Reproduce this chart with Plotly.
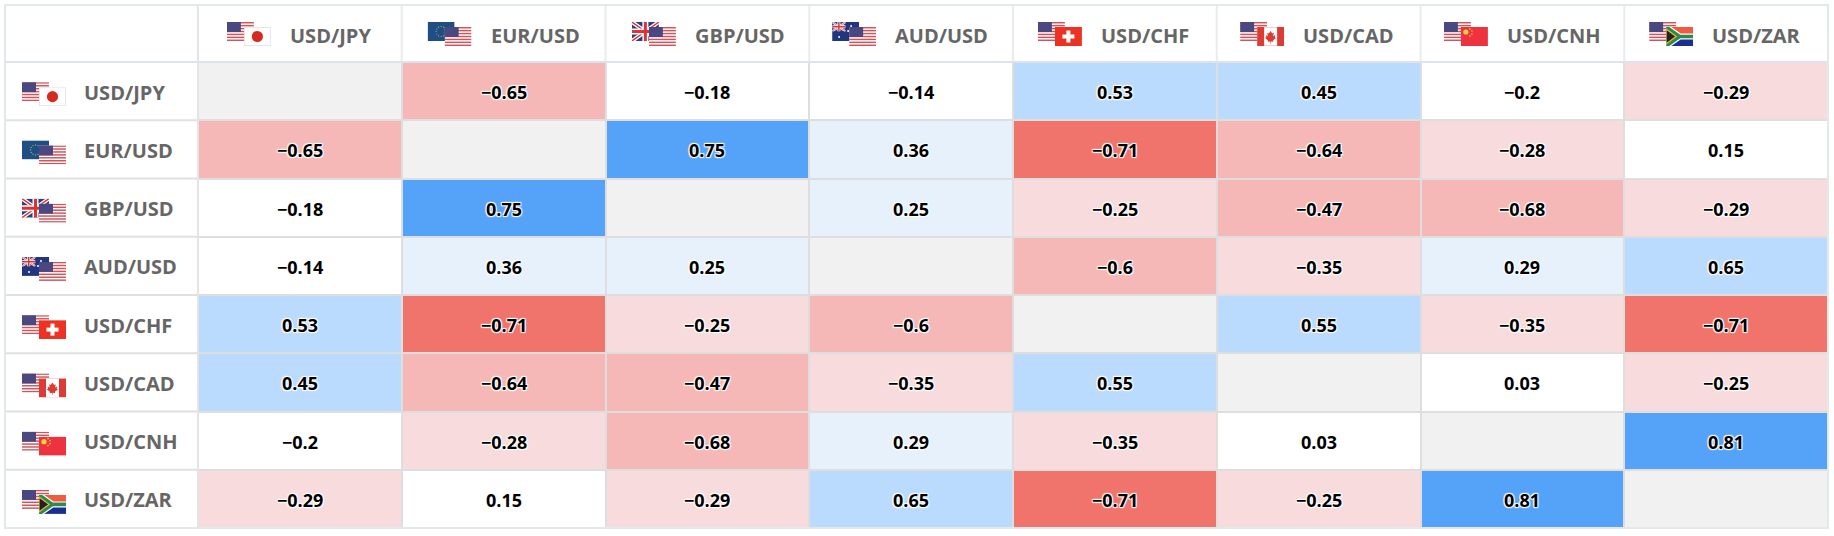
import base64
import math
import plotly.graph_objects as go

pairs = ["USD/JPY", "EUR/USD", "GBP/USD", "AUD/USD", "USD/CHF", "USD/CAD", "USD/CNH", "USD/ZAR"]
row_usd_jpy = [None, -0.65, -0.18, -0.14, 0.53, 0.45, -0.2, -0.29]
row_eur_usd = [-0.65, None, 0.75, 0.36, -0.71, -0.64, -0.28, 0.15]
row_gbp_usd = [-0.18, 0.75, None, 0.25, -0.25, -0.47, -0.68, -0.29]
row_aud_usd = [-0.14, 0.36, 0.25, None, -0.6, -0.35, 0.29, 0.65]
row_usd_chf = [0.53, -0.71, -0.25, -0.6, None, 0.55, -0.35, -0.71]
row_usd_cad = [0.45, -0.64, -0.47, -0.35, 0.55, None, 0.03, -0.25]
row_usd_cnh = [-0.2, -0.28, -0.68, 0.29, -0.35, 0.03, None, 0.81]
row_usd_zar = [-0.29, 0.15, -0.29, 0.65, -0.71, -0.25, 0.81, None]
matrix = [row_usd_jpy, row_eur_usd, row_gbp_usd, row_aud_usd, row_usd_chf, row_usd_cad, row_usd_cnh, row_usd_zar]

W, H = 1834, 536
L, R, T, B = 198, 1828, 62, 528
CW, CH = (R - L) / 8, (B - T) / 8
LABEL_FONT = dict(family="Open Sans", size=20, color="#666666", weight=700)
VALUE_FONT = dict(family="Open Sans", size=18, color="#000000", weight=700,
                  shadow="1px 1px 1px #fff,-1px -1px 1px #fff,1px -1px 1px #fff,-1px 1px 1px #fff")
HEAD_BLOCK_LEFT = [-73, -76, -75.5, -79, -77, -78.5, -78.5, -77]


def colour_scale():
    stops = [(-1.0, "#F0736C"), (-0.7, "#F5B8B7"), (-0.4, "#F8DBDC"), (-0.22, "#FFFFFF"),
             (0.2, "#E6F1FC"), (0.4, "#BBDBFE"), (0.7, "#55A3F9"), (1.0, "#55A3F9")]
    out = []
    for i in range(len(stops) - 1):
        a, c = stops[i]
        b, _ = stops[i + 1]
        out += [[(a + 1) / 2, c], [(b + 1) / 2, c]]
    return out


def us(w=27, h=19):
    s = f'<rect width="{w}" height="{h}" fill="#fff"/>'
    for i in range(0, 13, 2):
        s += f'<rect y="{i*h/13:.2f}" width="{w}" height="{h/13:.2f}" fill="#D0545C"/>'
    s += f'<rect width="{w*0.52:.1f}" height="{h*10/19:.1f}" fill="#4A4880"/>'
    return s


def jpy(w=27, h=19):
    return (f'<rect x=".5" y=".5" width="{w-1}" height="{h-1}" fill="#fff" stroke="#E6E6E6"/>'
            f'<circle cx="{w/2}" cy="{h/2}" r="5.6" fill="#D52B1E"/>')


def eur(w=27, h=19):
    dots = ""
    for i in range(12):
        a = math.pi * i / 6
        dots += f'<circle cx="{w/2+5*math.cos(a):.1f}" cy="{h/2+5*math.sin(a):.1f}" r=".6" fill="#C8B94A"/>'
    return f'<rect width="{w}" height="{h}" fill="#1F4E85"/>' + dots


def uk_block(w=27, h=19):
    return (f'<rect width="{w}" height="{h}" fill="#2A3F85"/>'
            f'<path d="M0 0L{w} {h}M{w} 0L0 {h}" stroke="#fff" stroke-width="4"/>'
            f'<path d="M0 0L{w} {h}M{w} 0L0 {h}" stroke="#D33" stroke-width="1.4"/>'
            f'<path d="M{w/2} 0V{h}M0 {h/2}H{w}" stroke="#fff" stroke-width="6"/>'
            f'<path d="M{w/2} 0V{h}M0 {h/2}H{w}" stroke="#D33" stroke-width="3"/>')


def aud(w=27, h=19):
    stars = "".join(f'<circle cx="{x}" cy="{y}" r="1" fill="#fff"/>' for x, y in [(7, 15), (19, 4), (23, 8), (19, 15), (16, 9)])
    return (f'<rect width="{w}" height="{h}" fill="#22357F"/>'
            f'<svg x="0" y="0" width="13.5" height="9.5" viewBox="0 0 27 19" preserveAspectRatio="none">{uk_block()}</svg>' + stars)


def chf(w=27, h=19):
    return (f'<rect width="{w}" height="{h}" fill="#EC3323"/>'
            f'<rect x="{w/2-6}" y="{h/2-2}" width="12" height="4" fill="#fff"/>'
            f'<rect x="{w/2-2}" y="{h/2-6}" width="4" height="12" fill="#fff"/>')


def cad(w=27, h=19):
    return (f'<rect width="{w}" height="{h}" fill="#fff" stroke="#E8A0A0"/>'
            f'<rect width="7" height="{h}" fill="#DD3B35"/><rect x="{w-7}" width="7" height="{h}" fill="#DD3B35"/>'
            f'<path d="M13.5 4l1.6 2.6 1.6-.8-.6 3.4 2-1.2-.4 2.4 1.4.4-3.2 2.6.3 1.4-2.5-.4v2h-.6v-2l-2.5.4.3-1.4-3.2-2.6 1.4-.4-.4-2.4 2 1.2-.6-3.4 1.6.8z" fill="#DD3B35"/>')


def cnh(w=27, h=19):
    return (f'<rect width="{w}" height="{h}" fill="#EE3240"/>'
            '<circle cx="5" cy="5" r="2.6" fill="#F6D23C"/>'
            + "".join(f'<circle cx="{x}" cy="{y}" r=".8" fill="#F6D23C"/>' for x, y in [(9, 2), (11, 4), (11, 7), (9, 9)]))


def zar(w=27, h=19):
    return (f'<rect width="{w}" height="{h/2}" fill="#EE5B3E"/>'
            f'<rect y="{h/2}" width="{w}" height="{h/2}" fill="#1A2F8F"/>'
            f'<path d="M0 0L{w/2} {h/2}H{w}M0 {h}L{w/2} {h/2}" stroke="#fff" stroke-width="6" fill="none"/>'
            f'<path d="M0 0L{w/2} {h/2}H{w}M0 {h}L{w/2} {h/2}" stroke="#2E8B4E" stroke-width="3.6" fill="none"/>'
            f'<path d="M0 2L10 {h/2}L0 {h-2}z" fill="#222" stroke="#E8B92E" stroke-width="1.2"/>')


FLAG = {"USD": us, "JPY": jpy, "EUR": eur, "GBP": uk_block, "AUD": aud, "CHF": chf, "CAD": cad, "CNH": cnh, "ZAR": zar}
BACK = {"USD/JPY": ("USD", "JPY"), "EUR/USD": ("EUR", "USD"), "GBP/USD": ("GBP", "USD"), "AUD/USD": ("AUD", "USD"),
        "USD/CHF": ("USD", "CHF"), "USD/CAD": ("USD", "CAD"), "USD/CNH": ("USD", "CNH"), "USD/ZAR": ("USD", "ZAR")}


def flag_uri(pair):
    a, b = BACK[pair]
    svg = ('<svg xmlns="http://www.w3.org/2000/svg" width="44" height="24" viewBox="0 0 44 24">'
           f'<svg x="0" y="0" width="27" height="19">{FLAG[a]()}</svg>'
           f'<svg x="17" y="5" width="27" height="19">{FLAG[b]()}</svg></svg>')
    return "data:image/svg+xml;base64," + base64.b64encode(svg.encode()).decode()


def py(p):
    return (B - p) / (B - T)


def px(p):
    return (p - L) / (R - L)


z = [[0 if v is None else v for v in row] for row in matrix]

fig = go.Figure()
fig.add_trace(go.Heatmap(
    x=pairs, y=pairs, z=z,
    colorscale=colour_scale(), zmin=-1, zmax=1, showscale=False, xgap=2, ygap=2, hoverinfo="skip"))
fig.add_trace(go.Heatmap(
    x=pairs, y=pairs, z=[[1 if v is None else None for v in row] for row in matrix],
    colorscale=[[0, "#F1F1F1"], [1, "#F1F1F1"]], showscale=False, xgap=2, ygap=2, hoverinfo="skip"))

images, annotations, shapes = [], [], []
for r, row in enumerate(matrix):
    for c, v in enumerate(row):
        if v is not None:
            annotations.append(dict(text=str(v).replace("-", "\u2212"), xref="x", yref="y", x=pairs[c], y=pairs[r],
                                    showarrow=False, yshift=-1, font=VALUE_FONT))

for i, p in enumerate(pairs):
    uri = flag_uri(p)
    off = HEAD_BLOCK_LEFT[i]
    images.append(dict(source=uri, xref="x", yref="paper", x=i + off / CW, y=py(22),
                       sizex=44 / CW, sizey=24 / (B - T), xanchor="left", yanchor="top", sizing="stretch", layer="above"))
    images.append(dict(source=uri, xref="paper", yref="y", x=px(22), y=i - 9 / CH,
                       sizex=44 / (R - L), sizey=24 / CH, xanchor="left", yanchor="top", sizing="stretch", layer="above"))
    annotations.append(dict(text=p, xref="paper", yref="y", x=px(82), y=i, yshift=-1, xanchor="left", yanchor="middle",
                            showarrow=False, font=LABEL_FONT))
    annotations.append(dict(text=p, xref="x", yref="paper", x=i, y=py(35), xshift=off + 61, xanchor="left",
                            yanchor="middle", showarrow=False, font=LABEL_FONT))
    if i:
        shapes.append(dict(type="line", xref="x", yref="paper", x0=i - .5, x1=i - .5, y0=1, y1=py(5),
                           line=dict(color="#EBEBEB", width=2)))

for j in range(1, 8):
    shapes.append(dict(type="line", xref="paper", yref="y", x0=px(5), x1=0, y0=j - .5, y1=j - .5,
                       line=dict(color="#E0E0E0", width=2)))
shapes.append(dict(type="line", xref="paper", yref="paper", x0=px(5), x1=1, y0=1, y1=1,
                   line=dict(color="#DEE2EC", width=2)))
shapes.append(dict(type="line", xref="paper", yref="paper", x0=0, x1=0, y0=0, y1=py(5),
                   line=dict(color="#E4E4E4", width=2)))
shapes.append(dict(type="rect", xref="paper", yref="paper", x0=px(5), x1=1, y0=0, y1=py(5),
                   line=dict(color="#E2E9E9", width=2), fillcolor="rgba(0,0,0,0)"))

fig.update_layout(
    width=W, height=H, margin=dict(l=L, r=W - R, t=T, b=H - B), autosize=False, showlegend=False,
    paper_bgcolor="#FFFFFF", plot_bgcolor="#DEDEDE", images=images, annotations=annotations, shapes=shapes,
    xaxis=dict(type="category", categoryorder="array", categoryarray=pairs, side="top", showticklabels=False,
               showgrid=False, zeroline=False, ticks="", fixedrange=True),
    yaxis=dict(type="category", categoryorder="array", categoryarray=pairs, autorange="reversed", showticklabels=False,
               showgrid=False, zeroline=False, ticks="", fixedrange=True),
)
fig.write_html("out.html", config=dict(displayModeBar=False),
               post_script="document.body.style.margin='0';document.documentElement.style.overflow='hidden';")
